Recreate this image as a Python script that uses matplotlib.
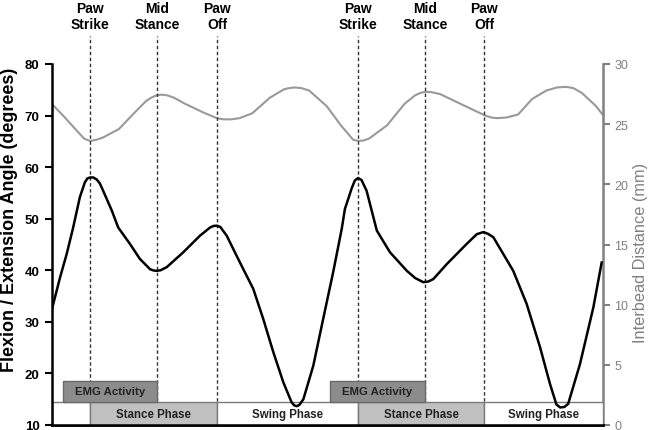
import matplotlib
matplotlib.use("Agg")
import matplotlib.pyplot as plt
from matplotlib.patches import Rectangle
import matplotlib.transforms as mtransforms

plt.rcParams["font.family"] = ["Liberation Sans", "DejaVu Sans"]

# time axis in % of step cycle (two cycles shown)
angle_t = [0.0, 3.0, 5.5, 7.9, 10.4, 12.3, 13.2, 14.2, 15.4, 16.7, 17.9, 19.1, 22.3, 24.7,
           29.1, 32.8, 36.6, 38.0, 39.1, 40.5, 42.8, 49.0, 55.2, 59.0, 60.3, 61.5, 62.8,
           65.2, 68.9, 71.4, 75.1, 78.8, 82.6, 86.3, 89.4, 90.4, 91.3, 92.3, 93.8, 97.5,
           101.2, 104.9, 108.1, 109.3, 111.9, 113.0, 114.2, 115.5, 117.4, 121.2, 126.1,
           132.4, 135.5, 138.5, 140.3, 142.3, 147.3, 154.7, 158.5, 160.9, 162.6, 164.7,
           172.1, 177.1, 182.1, 185.8, 188.2, 189.6, 191.2, 192.6, 197.0, 202.0, 205.1]
angle = [32.5, 38.6, 43.2, 48.3, 54.2, 57.1, 57.8, 58.0, 58.0, 57.6, 56.8, 55.4, 51.6, 48.3,
         45.1, 42.2, 40.2, 39.95, 39.9, 40.0, 40.6, 43.5, 46.7, 48.3, 48.6, 48.65, 48.4,
         46.7, 42.8, 40.2, 36.4, 30.6, 24.1, 18.3, 14.4, 13.8, 13.65, 13.9, 15.0, 21.5,
         30.6, 39.6, 48.0, 51.9, 56.0, 57.4, 57.9, 57.5, 55.4, 47.7, 43.5,
         39.9, 38.5, 37.7, 37.8, 38.3, 41.2, 45.1, 47.0, 47.4, 47.1, 46.4,
         39.9, 33.5, 25.1, 18.0, 14.0, 13.4, 13.5, 14.1, 21.8, 32.8, 41.5]

bead_t = [0.0, 4.6, 9.9, 12.0, 14.2, 16.5, 19.1, 25.0, 31.0, 35.0, 37.0, 39.0, 41.0, 42.9,
          45.5, 49.6, 56.2, 61.5, 64.0, 66.8, 70.0, 74.7, 81.3, 86.6, 88.5, 90.6, 93.0,
          95.9, 102.5, 107.8, 112.4, 114.4, 116.3, 118.3, 125.0, 131.6, 135.5, 137.5,
          139.5, 141.8, 144.8, 151.4, 158.0, 161.8, 164.0, 166.0, 169.5, 173.9, 179.2,
          184.5, 188.5, 191.8, 194.5, 197.7, 203.0, 205.6]
bead = [26.67, 25.6, 24.3, 23.8, 23.6, 23.7, 23.9, 24.6, 26.0, 26.9, 27.2, 27.4, 27.45, 27.4,
        27.2, 26.7, 26.0, 25.5, 25.4, 25.4, 25.5, 25.9, 27.2, 27.9, 28.0, 28.05, 28.0,
        27.8, 26.5, 24.9, 23.7, 23.6, 23.65, 23.8, 24.9, 26.7, 27.4, 27.6,
        27.7, 27.65, 27.5, 26.8, 26.1, 25.7, 25.55, 25.5, 25.55, 25.8, 27.1,
        27.8, 28.05, 28.1, 28.0, 27.6, 26.5, 25.75]

events = [14.2, 39.2, 61.6, 114.2, 139.2, 161.2]
event_labels = ["Paw\nStrike", "Mid\nStance", "Paw\nOff", "Paw\nStrike", "Mid\nStance", "Paw\nOff"]

phase_start = [0.0, 14.2, 61.6, 114.2, 161.2]
phase_end = [14.2, 61.6, 114.2, 161.2, 205.6]
phase_labels = ["", "Stance Phase", "Swing Phase", "Stance Phase", "Swing Phase"]
phase_colors = ["white", "#c0c0c0", "white", "#c0c0c0", "white"]

emg_start = [4.1, 103.7]
emg_end = [39.2, 139.2]

fig = plt.figure(figsize=(6.5, 4.31), dpi=100)
ax = fig.add_axes([52 / 650, 1 - 426 / 431, 551 / 650, 361 / 431])
ax2 = ax.twinx()
ax.set_zorder(ax2.get_zorder() + 1)
ax.patch.set_visible(False)

ax.set_xlim(0, 205.6)
ax.set_ylim(10, 80)
ax2.set_ylim(0, 30)

# dashed event lines, reaching above the plot
for x in events:
    ax.axvline(x, ymin=0, ymax=389 / 361, color="#333333", lw=1,
               ls=(0, (2.5, 1.8)), clip_on=False, zorder=1)

# phase strip
for s, e, lab, c in zip(phase_start, phase_end, phase_labels, phase_colors):
    ax.add_patch(Rectangle((s, 10), e - s, 4.45, facecolor=c, edgecolor="#7a7a7a",
                           lw=1, zorder=2))
    if lab:
        ax.text((s + e) / 2, 12.2, lab, ha="center", va="center", fontsize=8.3,
                fontweight="bold", color="#222222", zorder=3)

for s, e in zip(emg_start, emg_end):
    ax.add_patch(Rectangle((s, 14.45), e - s, 4.05, facecolor="#8c8c8c",
                           edgecolor="#6a6a6a", lw=1, zorder=2))
    ax.text((s + e) / 2, 16.5, "EMG Activity", ha="center", va="center", fontsize=8.2,
            fontweight="bold", color="#222222", zorder=3)

ax.plot(angle_t, angle, color="black", lw=1.8, zorder=4)
ax2.plot(bead_t, bead, color="#999999", lw=1.5)

# event labels on top
trans = mtransforms.blended_transform_factory(ax.transData, fig.transFigure)
for x, lab in zip(events, event_labels):
    ax.text(x, 0.995, lab, transform=trans, ha="center", va="top", fontsize=10,
            fontweight="bold", linespacing=1.15)

ax.set_xticks([])
ax.set_yticks(range(10, 81, 10))
for t in ax.get_yticklabels():
    t.set_fontweight("bold")
ax.tick_params(axis="y", labelsize=9.5, width=1.5, length=5, pad=4, colors="black")

ax2.set_yticks(range(0, 31, 5))
ax2.tick_params(axis="y", labelsize=9, width=1.5, length=5, pad=3, colors="#808080")

fig.text(10 / 650, 1 - 220 / 431, "Flexion / Extension Angle (degrees)", rotation=90,
         ha="center", va="center", fontsize=13, fontweight="bold")
fig.text(641 / 650, 1 - 253 / 431, "Interbead Distance (mm)", rotation=90,
         ha="center", va="center", fontsize=11.8, color="#808080")

for a in (ax, ax2):
    a.spines["top"].set_visible(False)
ax.spines["right"].set_visible(False)
ax2.spines["left"].set_visible(False)
ax.spines["left"].set_linewidth(1.8)
ax.spines["bottom"].set_linewidth(1.8)
ax2.spines["bottom"].set_linewidth(1.8)
ax2.spines["right"].set_linewidth(1.8)
ax2.spines["right"].set_color("#808080")

fig.savefig("out.png", dpi=100)
